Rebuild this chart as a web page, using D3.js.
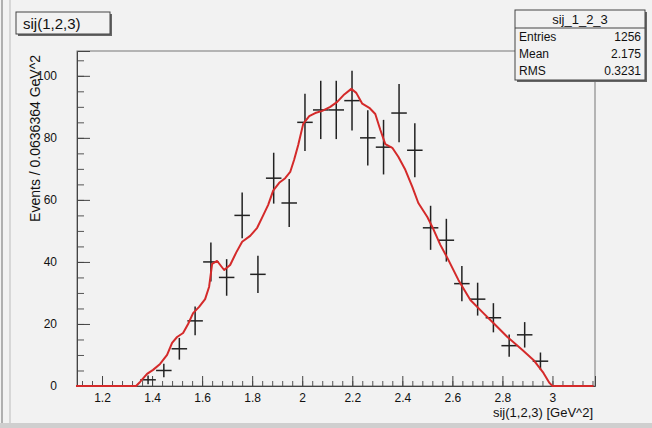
<!DOCTYPE html>
<html>
<head>
<meta charset="utf-8">
<script src="https://cdn.jsdelivr.net/npm/d3@7"></script>
<style>
  html, body { margin: 0; padding: 0; background: #f2f2f2; }
  svg { display: block; }
  text { font-family: "Liberation Sans", Arial, Helvetica, sans-serif; fill: #111; }
</style>
</head>
<body>
<svg id="chart" width="652" height="428"></svg>
<script>
// ---- data ----
const binCenters = [1.384, 1.447, 1.509, 1.572, 1.635, 1.698, 1.760, 1.823, 1.886, 1.948,
                    2.011, 2.074, 2.136, 2.199, 2.262, 2.325, 2.387, 2.450, 2.513, 2.576,
                    2.638, 2.701, 2.764, 2.827, 2.889, 2.952];
const binHalfWidth = [0.031, 0.031, 0.031, 0.031, 0.031, 0.031, 0.031, 0.031, 0.031, 0.031,
                      0.031, 0.031, 0.031, 0.031, 0.031, 0.031, 0.031, 0.031, 0.031, 0.031,
                      0.031, 0.031, 0.031, 0.031, 0.031, 0.031];
const counts = [2, 5, 12, 21, 40, 35, 55, 36, 67, 59,
                85, 89, 89, 92, 80, 77, 88, 76, 51, 47,
                33, 28, 22, 13, 16.5, 8];
const errors = [1.4, 2.2, 3.5, 4.6, 6.3, 5.9, 7.4, 6.0, 8.2, 7.7,
                9.2, 9.4, 9.4, 9.6, 8.9, 8.8, 9.4, 8.7, 7.1, 6.9,
                5.7, 5.3, 4.7, 3.6, 4.1, 2.8];

const fitX = [1.096, 1.336, 1.352, 1.380, 1.404, 1.432, 1.460, 1.480, 1.500, 1.524,
              1.544, 1.564, 1.588, 1.612, 1.628, 1.640, 1.660, 1.688, 1.712, 1.736,
              1.760, 1.792, 1.820, 1.844, 1.864, 1.884, 1.908, 1.932, 1.952, 1.968,
              1.984, 2.004, 2.028, 2.052, 2.080, 2.112, 2.140, 2.168, 2.196, 2.216,
              2.240, 2.268, 2.292, 2.312, 2.332, 2.360, 2.384, 2.412, 2.440, 2.464,
              2.500, 2.524, 2.552, 2.580, 2.624, 2.672, 2.724, 2.764, 2.820, 2.880,
              2.924, 2.964, 2.988, 3.000, 3.164];
const fitY = [0, 0, 1.3, 3.9, 5.2, 7.1, 10, 13.9, 15.8, 17.1,
              20, 23.5, 25.5, 28, 32, 39.4, 40.3, 37.4, 39, 43,
              46.5, 48.4, 51, 55, 58.4, 63, 65.5, 67, 69, 73,
              77.7, 84.5, 87, 88, 88.7, 90, 91.6, 94, 95.8, 94.5,
              91, 89.7, 87.7, 82.6, 78, 76.8, 73.9, 69.7, 64.2, 59,
              54.5, 50.6, 45.5, 41.3, 34.2, 27.7, 23.5, 20.3, 15.8, 11.6,
              8.4, 4.2, 1, 0, 0];

const xTickValues = [1.2, 1.4, 1.6, 1.8, 2.0, 2.2, 2.4, 2.6, 2.8, 3.0];
const xTickLabels = ["1.2", "1.4", "1.6", "1.8", "2", "2.2", "2.4", "2.6", "2.8", "3"];
const yTickValues = [0, 20, 40, 60, 80, 100];
const yTickLabels = ["0", "20", "40", "60", "80", "100"];

const histTitle = "sij(1,2,3)";
const statsName = "sij_1_2_3";
const statsLabels = ["Entries", "Mean", "RMS"];
const statsValues = ["1256", "2.175", "0.3231"];
const xTitle = "sij(1,2,3) [GeV^2]";
const yTitle = "Events / 0.0636364 GeV^2";

// ---- layout ----
const svg = d3.select("#chart");
const bg = "#f2f2f2";
const frame = {left: 77, right: 595, top: 51, bottom: 386};

svg.append("rect").attr("width", 652).attr("height", 428).attr("fill", bg);
// outer window edges
svg.append("line").attr("x1", 2).attr("x2", 2).attr("y1", 0).attr("y2", 428).attr("stroke", "#999").attr("stroke-width", 1.5);
svg.append("line").attr("x1", 10).attr("x2", 10).attr("y1", 0).attr("y2", 428).attr("stroke", "#bbb").attr("stroke-width", 1);
svg.append("rect").attr("x", 0).attr("y", 423).attr("width", 652).attr("height", 5).attr("fill", "#cfcfcf");

const x = d3.scaleLinear().domain([1.1, 3.17]).range([frame.left, frame.right]);
const y = d3.scaleLinear().domain([0, 108]).range([frame.bottom, frame.top]);

// frame
svg.append("rect")
  .attr("x", frame.left).attr("y", frame.top)
  .attr("width", frame.right - frame.left).attr("height", frame.bottom - frame.top)
  .attr("fill", bg).attr("stroke", "#777").attr("stroke-width", 1);

// minor ticks
const xMinor = d3.range(1.12, 3.17, 0.04);
svg.append("g").attr("transform", `translate(0,${frame.bottom})`)
  .call(d3.axisBottom(x).tickValues(xMinor).tickSize(-5).tickFormat(""))
  .call(g => g.select(".domain").remove())
  .call(g => g.selectAll("line").attr("stroke", "#555"));
const yMinor = d3.range(0, 106, 5);
svg.append("g").attr("transform", `translate(${frame.left},0)`)
  .call(d3.axisLeft(y).tickValues(yMinor).tickSize(-7).tickFormat(""))
  .call(g => g.select(".domain").remove())
  .call(g => g.selectAll("line").attr("stroke", "#555"));

// major axes
const xAxis = svg.append("g").attr("transform", `translate(0,${frame.bottom})`)
  .call(d3.axisBottom(x).tickValues(xTickValues).tickSize(-10).tickPadding(14)
        .tickFormat((d, i) => xTickLabels[i]));
xAxis.select(".domain").attr("stroke", "#444");
xAxis.selectAll("line").attr("stroke", "#444");
xAxis.selectAll("text").attr("font-size", 12).attr("fill", "#111").attr("dy", "0.2em");

const yAxis = svg.append("g").attr("transform", `translate(${frame.left},0)`)
  .call(d3.axisLeft(y).tickValues(yTickValues).tickSize(-13).tickPadding(20)
        .tickFormat((d, i) => yTickLabels[i]));
yAxis.select(".domain").attr("stroke", "#444");
yAxis.selectAll("line").attr("stroke", "#444");
yAxis.selectAll("text").attr("font-size", 12).attr("fill", "#111");

// axis titles
svg.append("text").attr("x", 593).attr("y", 417).attr("text-anchor", "end")
  .attr("font-size", 13).text(xTitle);
svg.append("text").attr("transform", "translate(40,55) rotate(-90)")
  .attr("text-anchor", "end").attr("font-size", 14).text(yTitle);

// data points with error bars
const pts = svg.append("g").attr("stroke", "#222").attr("stroke-width", 1.5);
counts.forEach((c, i) => {
  const cx = x(binCenters[i]);
  pts.append("line").attr("x1", cx).attr("x2", cx)
    .attr("y1", y(Math.max(0, c - errors[i]))).attr("y2", y(c + errors[i]));
  pts.append("line")
    .attr("x1", x(binCenters[i] - binHalfWidth[i])).attr("x2", x(binCenters[i] + binHalfWidth[i]))
    .attr("y1", y(c)).attr("y2", y(c));
});

// fit curve
const line = d3.line().x((d, i) => x(fitX[i])).y((d, i) => y(fitY[i]));
svg.append("path").datum(fitY).attr("d", line)
  .attr("fill", "none").attr("stroke", "#d42a2a").attr("stroke-width", 2)
  .attr("stroke-linejoin", "round");

// title box
svg.append("rect").attr("x", 18).attr("y", 14).attr("width", 94).attr("height", 22).attr("fill", "#666");
svg.append("rect").attr("x", 16).attr("y", 12).attr("width", 94).attr("height", 22)
  .attr("fill", bg).attr("stroke", "#444").attr("stroke-width", 1);
svg.append("text").attr("x", 23).attr("y", 28.5).attr("font-size", 15).text(histTitle);

// stats box
const sb = {x: 515, y: 10, w: 130, h: 70};
svg.append("rect").attr("x", sb.x + 2).attr("y", sb.y + 2).attr("width", sb.w).attr("height", sb.h).attr("fill", "#666");
svg.append("rect").attr("x", sb.x).attr("y", sb.y).attr("width", sb.w).attr("height", sb.h)
  .attr("fill", bg).attr("stroke", "#444").attr("stroke-width", 1);
svg.append("text").attr("x", sb.x + sb.w / 2).attr("y", sb.y + 14).attr("text-anchor", "middle")
  .attr("font-size", 13).text(statsName);
svg.append("line").attr("x1", sb.x).attr("x2", sb.x + sb.w).attr("y1", sb.y + 18).attr("y2", sb.y + 18)
  .attr("stroke", "#444");
statsLabels.forEach((lab, i) => {
  const ty = sb.y + 31 + i * 17;
  svg.append("text").attr("x", sb.x + 4).attr("y", ty).attr("font-size", 12).text(lab);
  svg.append("text").attr("x", sb.x + sb.w - 4).attr("y", ty).attr("text-anchor", "end")
    .attr("font-size", 12).text(statsValues[i]);
});
</script>
</body>
</html>
